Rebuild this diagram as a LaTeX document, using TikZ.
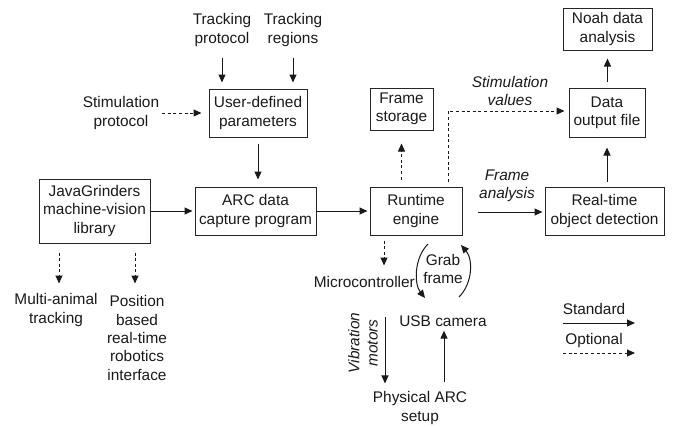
\documentclass[tikz,border=0pt]{standalone}
\usepackage{fontspec}
\setmainfont{Liberation Sans}
\usetikzlibrary{arrows.meta}
\begin{document}
\begin{tikzpicture}[x=1pt,y=-1pt,
  every node/.style={font=\fontsize{15.4}{18.3}\selectfont, align=center, inner sep=0pt, text=black!90},
  box/.style n args={2}{draw=black!85, line width=1pt, minimum width=#1, minimum height=#2},
  lbl/.style={font=\fontsize{15.4}{18.3}\selectfont\itshape},
  arr/.style={draw=black!90, line width=1pt, -{Triangle[length=8pt,width=7pt]}},
  dsh/.style={arr, dash pattern=on 3pt off 2.6pt}]
\useasboundingbox (0,0) rectangle (674,426);

% text nodes
\node (tp) at (222,30) {Tracking\\protocol};
\node (tr) at (293,30) {Tracking\\regions};
\node (stim) at (121,113) {Stimulation\\protocol};
\node (mat) at (56,310) {Multi-animal\\tracking};
\node (pos) at (137,338) {Position\\based\\real-time\\robotics\\interface};
\node[anchor=east] (mc) at (415,282) {Microcontroller};
\node (grab) at (443,269) {Grab\\frame};
\node (usb) at (443,321) {USB camera};
\node[lbl, rotate=90] (vib) at (363,343) {Vibration\\motors};
\node (phys) at (420,408) {Physical ARC\\setup};
\node[lbl] (fa) at (507,186) {Frame\\analysis};
\node[lbl] (sv) at (510,91) {Stimulation\\values};
\node (std) at (594,309) {Standard};
\node (opt) at (594,341) {Optional};

% boxes
\node[box={98pt}{48pt}] (user) at (258,113) {User-defined\\parameters};
\node[box={121pt}{48pt}] (arc) at (255.5,211) {ARC data\\capture program};
\node[box={111pt}{64pt}] (java) at (94.5,211) {JavaGrinders\\machine-vision\\library};
\node[box={63pt}{42pt}] (fs) at (401.5,109) {Frame\\storage};
\node[box={76pt}{49pt}] (dof) at (607,112.5) {Data\\output file};
\node[box={89pt}{42pt}] (noah) at (607.5,29) {Noah data\\analysis};
\node[box={92pt}{48pt}] (rt) at (416,211) {Runtime\\engine};
\node[box={119pt}{48pt}] (rtod) at (604.5,211) {Real-time\\object detection};

% connectors
\draw[arr, shorten >=6pt] ([yshift=-11pt]tp.south) -- (tp.south |- user.north);
\draw[arr, shorten >=6pt] ([yshift=-11pt]tr.south) -- (tr.south |- user.north);
\draw[dsh, shorten <=3pt, shorten >=7pt] (stim.east |- user.west) -- (user.west);
\draw[arr, shorten <=6pt, shorten >=7pt] (user.south) -- (user.south |- arc.north);
\draw[arr, shorten >=2pt] (java.east) -- (arc.west);
\draw[arr, shorten >=2pt] (arc.east) -- (rt.west);
\draw[arr, shorten <=15pt, shorten >=2pt] ([yshift=-1pt]rt.east) -- ([yshift=-1pt]rtod.west);
\draw[dsh, shorten <=7pt, shorten >=13pt] (rt.north -| fs.south) -- (fs.south);
\draw[dsh, shorten <=5pt, shorten >=4pt] ([xshift=32pt]rt.north) |- ([yshift=1.5pt]dof.west);
\draw[arr, shorten <=5pt, shorten >=10pt] (dof.south |- rtod.north) -- (dof.south);
\draw[arr, shorten <=6pt, shorten >=8pt] (dof.north -| noah.south) -- (noah.south);
\draw[dsh] ([xshift=-35.5pt,yshift=-9pt]java.south) -- ([xshift=-35.5pt,yshift=-40pt]java.south);
\draw[dsh] ([xshift=40.5pt,yshift=-9pt]java.south) -- ([xshift=40.5pt,yshift=-40pt]java.south);
\draw[dsh] ([xshift=-32pt,yshift=-5pt]rt.south) -- ([xshift=-32pt,yshift=-30pt]rt.south);

% grab frame arcs
\coordinate (g1) at (428,244);
\coordinate (g2) at (425,298);
\coordinate (g3) at (459,297);
\coordinate (g4) at (461,245);
\draw[arr] (g1) .. controls (414,258) and (414,284) .. (g2);
\draw[arr] (g3) .. controls (473,283) and (473,259) .. (g4);

% camera / motors
\coordinate (vtop) at (385,317);
\draw[arr, shorten >=8pt] (vtop) -- (vtop |- phys.north);
\draw[arr, shorten <=9pt, shorten >=4pt] (phys.north -| 444,0) -- (usb.south -| 444,0);

% legend
\coordinate (l1) at (563,323);
\coordinate (l2) at (635,323);
\coordinate (l3) at (563,353);
\coordinate (l4) at (635,353);
\draw[arr] (l1) -- (l2);
\draw[dsh] (l3) -- (l4);
\end{tikzpicture}
\end{document}
